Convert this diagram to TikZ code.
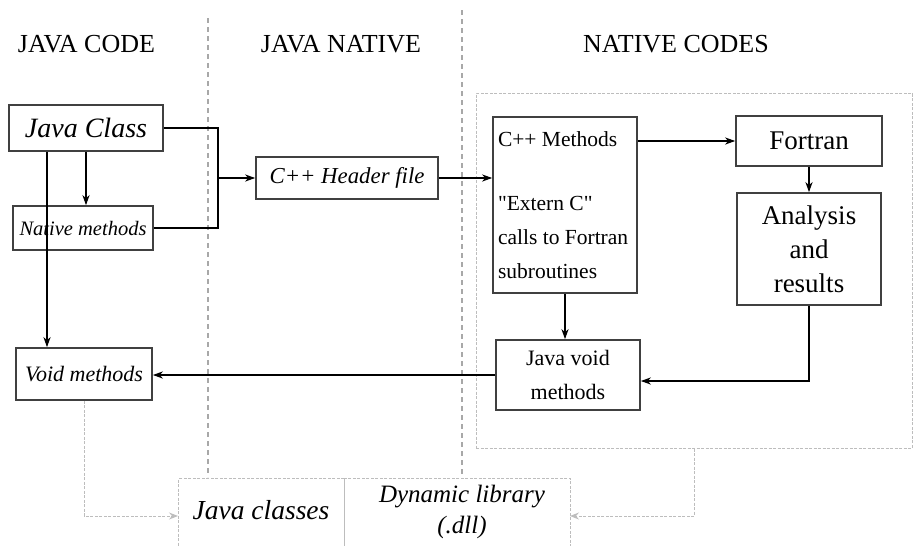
\documentclass[tikz,border=0pt]{standalone}
\usepackage{fontspec}
\setmainfont{Liberation Serif}[Ligatures=TeXOff]
\usetikzlibrary{arrows.meta,positioning}
\definecolor{BoxLine}{HTML}{404040}
\definecolor{SepGray}{HTML}{A8A8A8}
\definecolor{FrameGray}{HTML}{BDBDBD}
\newcommand{\fs}[1]{\fontsize{#1}{34}\selectfont}
\newcommand{\fsi}[1]{\fontsize{#1}{31}\selectfont\itshape}

\tikzset{
  box/.style={draw=BoxLine, line width=1.6pt, rectangle, inner sep=0pt},
  head/.style={font=\fs{26}},
  flow/.style={line width=1.8pt, -{Stealth[length=10pt,width=7pt,inset=3pt]}},
  joint/.style={line width=1.8pt},
  sep/.style={draw=SepGray, line width=1.2pt, dash pattern=on 5pt off 4pt},
  frame/.style={draw=FrameGray, line width=1pt, dash pattern=on 3pt off 1.5pt},
  link/.style={frame, -{Stealth[length=9pt,width=7pt,inset=3pt]}}
}

\begin{document}
\begin{tikzpicture}[x=1pt,y=-1pt]
     \useasboundingbox (0,0) rectangle (914,546);

     % column titles and dividers
     \node[head] (tjava) at (86.5,44) {JAVA CODE};
     \node[head] (tnative) at (341,44) {JAVA NATIVE};
     \node[head] (tcodes) at (676,44) {NATIVE CODES};
     \draw[sep] (208,18) -- (208,477);
     \draw[sep] (462,10) -- (462,478);

     % java side
     \node[box, minimum width=154pt, minimum height=46pt, font=\fsi{28}] (jclass) at (86,128) {Java Class};
     \node[box, minimum width=140pt, minimum height=44pt, font=\fsi{20.5}] (native) at (83,228) {Native methods};
     \node[box, minimum width=136pt, minimum height=52pt, font=\fsi{22}] (void) at (84,374) {Void methods};
     \node[box, minimum width=182pt, minimum height=42pt, font=\fsi{22.8}] (header) at (347,178) {C++ Header file};

     % native codes
     \node[frame, minimum width=436pt, minimum height=355pt, inner sep=0pt] (ncode) at (694,270.5) {};
     \node[box, text width=134pt, inner xsep=5pt, minimum height=176pt, align=flush left, font=\fs{21.5}] (cpp) at (565,205)
          {C++ Methods\\[30pt]"Extern C"\\calls to Fortran\\subroutines};
     \node[box, minimum width=146pt, minimum height=50pt, font=\fs{27}] (fortran) at (809,141) {Fortran};
     \node[box, minimum width=144pt, minimum height=112pt, align=center, font=\fs{27}] (analysis) at (809,249) {Analysis\\and\\results};
     \node[box, minimum width=144pt, minimum height=70pt, align=center, font=\fs{22}] (jvoid) at (568,375) {Java void\\methods};

     % libraries at the bottom
     \node[frame, minimum width=166pt, minimum height=90pt, inner sep=0pt, anchor=north west] (jcls) at (178,478) {};
     \node[frame, minimum width=226pt, minimum height=90pt, inner sep=0pt, anchor=north west] (dll) at (344,478) {};
     \node[font=\fsi{27.5}] (jclstxt) at (261,510) {Java classes};
     \node[font=\fsi{25}, align=center] (dlltxt) at (462,512) {Dynamic library\\(.dll)};
     \coordinate (jin) at (178,516);
     \coordinate (din) at (570,516);

     % connectors
     \coordinate (jn) at (218,178);
     \draw[joint] (jclass.east) -| (jn);
     \draw[joint] (native.east) -| (jn);
     \draw[flow] (jn) -- (header.west);
     \draw[flow] (jclass.south) -- (jclass.south |- native.north);
     \draw[flow] ([xshift=-39pt]jclass.south) -- ([xshift=-39pt]jclass.south |- void.north);
     \draw[flow] (header.east) -- (header.east -| cpp.west);
     \draw[flow] (fortran.west -| cpp.east) -- (fortran.west);
     \draw[flow] (fortran.south) -- (analysis.north);
     \draw[flow] (cpp.south) -- (cpp.south |- jvoid.north);
     \draw[flow] (analysis.south) |- ([yshift=-6pt]jvoid.east);
     \draw[flow] (jvoid.west) -- (jvoid.west -| void.east);
     \draw[link] (void.south) |- (jin);
     \draw[link] (ncode.south) |- (din);
    \end{tikzpicture}
\end{document}
